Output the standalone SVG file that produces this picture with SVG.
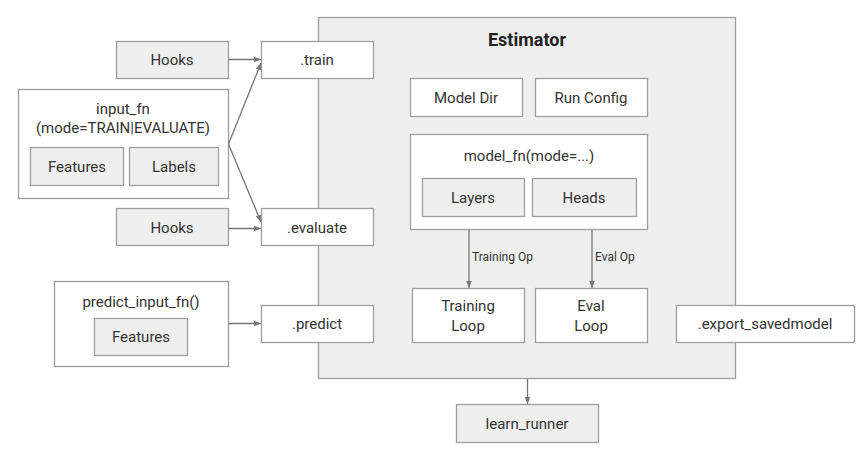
<svg xmlns="http://www.w3.org/2000/svg" width="865" height="462" viewBox="0 0 865 462">
<style>
.g{fill:#efefef;stroke:#9e9e9e;stroke-width:1.3}
.w{fill:#ffffff;stroke:#9e9e9e;stroke-width:1.3}
text{font-family:Roboto,"Liberation Sans",sans-serif;font-size:15px;fill:#333;text-anchor:middle}
.t{font-weight:bold;font-size:18px;fill:#222}
.s{font-size:12px;text-anchor:start}
.c{fill:none;stroke:#777;stroke-width:1.3}
</style>
<defs>
<marker id="a" viewBox="0 0 10 10" refX="10" refY="5" markerWidth="7" markerHeight="7" markerUnits="userSpaceOnUse" orient="auto">
<path d="M0,1 L10,5 L0,9 z" fill="#777"/>
</marker>
</defs>
<rect width="865" height="462" fill="#fff"/>
<g id="estimator">
<rect class="g" x="318.5" y="17.5" width="417" height="361"/>
<text class="t" x="527" y="46">Estimator</text>
</g>
<g id="hooks1"><rect class="g" x="116.5" y="41.5" width="112" height="37"/><text x="172" y="65">Hooks</text></g>
<g id="train"><rect class="w" x="261.5" y="41.5" width="112" height="37"/><text x="317" y="65">.train</text></g>
<g id="input_fn">
<rect class="w" x="18.5" y="89.5" width="210" height="109"/>
<text x="123" y="114">input_fn</text>
<text x="123" y="133">(mode=TRAIN|EVALUATE)</text>
<rect class="g" x="30.5" y="147.5" width="93" height="38"/><text x="77" y="172">Features</text>
<rect class="g" x="129.5" y="147.5" width="89" height="38"/><text x="174" y="172">Labels</text>
</g>
<g id="hooks2"><rect class="g" x="116.5" y="208.5" width="112" height="37"/><text x="172" y="233">Hooks</text></g>
<g id="evaluate"><rect class="w" x="261.5" y="208.5" width="112" height="37"/><text x="317" y="233">.evaluate</text></g>
<g id="predict_input_fn">
<rect class="w" x="54.5" y="281.5" width="174" height="85"/>
<text x="141" y="307">predict_input_fn()</text>
<rect class="g" x="94.5" y="318.5" width="93" height="37"/><text x="141" y="342">Features</text>
</g>
<g id="predict"><rect class="w" x="261.5" y="305.5" width="112" height="37"/><text x="317" y="329">.predict</text></g>
<g id="model_dir"><rect class="w" x="410.5" y="78.5" width="112" height="38"/><text x="466" y="103">Model Dir</text></g>
<g id="run_config"><rect class="w" x="535.5" y="78.5" width="112" height="38"/><text x="591" y="103">Run Config</text></g>
<g id="model_fn">
<rect class="w" x="410.5" y="134.5" width="237" height="95"/>
<text x="529" y="161">model_fn(mode=...)</text>
<rect class="g" x="422.5" y="178.5" width="102" height="38"/><text x="473" y="203">Layers</text>
<rect class="g" x="532.5" y="178.5" width="104" height="38"/><text x="584" y="203">Heads</text>
</g>
<g id="training_loop"><rect class="w" x="412.5" y="288.5" width="112" height="54"/><text x="468" y="311">Training</text><text x="468" y="331">Loop</text></g>
<g id="eval_loop"><rect class="w" x="535.5" y="288.5" width="112" height="54"/><text x="591" y="311">Eval</text><text x="591" y="331">Loop</text></g>
<g id="export"><rect class="w" x="676.5" y="305.5" width="178" height="37"/><text x="765" y="329">.export_savedmodel</text></g>
<g id="learn_runner"><rect class="g" x="456.5" y="404.5" width="142" height="38"/><text x="527" y="429">learn_runner</text></g>
<g id="connectors">
<line class="c" x1="228.5" y1="59.5" x2="261" y2="59.5" marker-end="url(#a)"/>
<line class="c" x1="228.5" y1="228.5" x2="261" y2="228.5" marker-end="url(#a)"/>
<line class="c" x1="228.5" y1="144" x2="261" y2="63" marker-end="url(#a)"/>
<line class="c" x1="228.5" y1="144" x2="261" y2="222" marker-end="url(#a)"/>
<line class="c" x1="228.5" y1="323.5" x2="261" y2="323.5" marker-end="url(#a)"/>
<line class="c" x1="469" y1="229.5" x2="469" y2="288" marker-end="url(#a)"/>
<line class="c" x1="592" y1="229.5" x2="592" y2="288" marker-end="url(#a)"/>
<line class="c" x1="527.5" y1="378.5" x2="527.5" y2="404" marker-end="url(#a)"/>
<text class="s" x="472" y="261">Training Op</text>
<text class="s" x="595" y="261">Eval Op</text>
</g>
</svg>
